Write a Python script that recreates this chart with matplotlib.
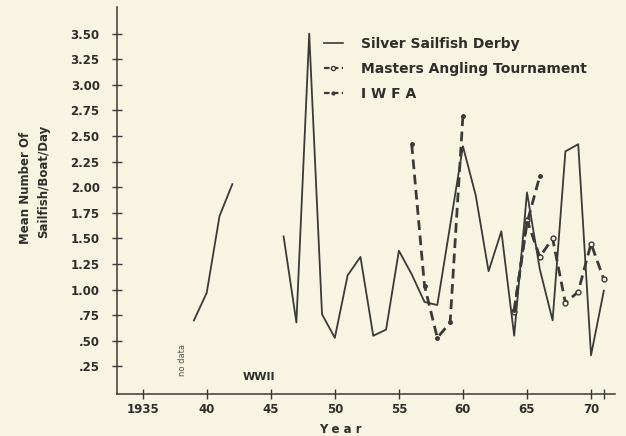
import numpy as np
import matplotlib.pyplot as plt
from matplotlib.lines import Line2D

# Silver Sailfish Derby (gap during WWII)
derby_years = [1939, 1940, 1941, 1942, 1943, 1944, 1945, 1946, 1947, 1948, 1949, 1950,
               1951, 1952, 1953, 1954, 1955, 1956, 1957, 1958, 1960, 1961, 1962, 1963,
               1964, 1965, 1966, 1967, 1968, 1969, 1970, 1971]
derby_vals = [0.70, 0.97, 1.72, 2.03, np.nan, np.nan, np.nan, 1.52, 0.68, 3.50, 0.76, 0.53,
              1.14, 1.32, 0.55, 0.61, 1.38, 1.15, 0.88, 0.85, 2.40, 1.92, 1.18, 1.57,
              0.55, 1.95, 1.20, 0.70, 2.35, 2.42, 0.36, 0.99]

# Masters Angling Tournament
masters_years = [1964, 1965, 1966, 1967, 1968, 1969, 1970, 1971]
masters_vals = [0.78, 1.68, 1.32, 1.50, 0.87, 0.98, 1.45, 1.10]

# IWFA
iwfa_years = [1956, 1957, 1958, 1959, 1960, 1961, 1964, 1965, 1966]
iwfa_vals = [2.42, 1.04, 0.53, 0.68, 2.70, np.nan, 0.80, 1.65, 2.11]

y_ticks = [0.25, 0.50, 0.75, 1.00, 1.25, 1.50, 1.75, 2.00, 2.25, 2.50, 2.75, 3.00, 3.25, 3.50]
y_labels = [".25", ".50", ".75", "1.00", "1.25", "1.50", "1.75", "2.00", "2.25", "2.50",
            "2.75", "3.00", "3.25", "3.50"]
x_ticks = [1935, 1940, 1945, 1950, 1955, 1960, 1965, 1970]
x_labels = ["1935", "40", "45", "50", "55", "60", "65", "70"]

bg = "#f7f5e2"
ink = "#3a3a38"
txt = "#2e2e2c"

fig = plt.figure(figsize=(6.26, 4.36), dpi=100, facecolor=bg)
ax = fig.add_axes([0.187, 0.096, 0.795, 0.888], facecolor=bg)

ax.plot(derby_years, derby_vals, color=ink, lw=1.3)
ax.plot(masters_years, masters_vals, color=ink, lw=2.0, ls=(0, (3.5, 2)),
        marker="o", ms=3.5, mfc=bg, mec=ink, mew=1.0)
ax.plot(iwfa_years, iwfa_vals, color=ink, lw=2.0, ls=(0, (3.5, 2)),
        marker="o", ms=2.5, mfc=ink, mec=ink)

ax.set_xlim(1933.0, 1971.85)
ax.set_ylim(-0.02, 3.76)
ax.set_xticks(x_ticks)
ax.set_xticklabels(x_labels)
ax.set_xticks([1971], minor=True)
ax.set_yticks(y_ticks)
ax.set_yticklabels(y_labels)

for s in ["top", "right"]:
    ax.spines[s].set_visible(False)
for s in ["left", "bottom"]:
    ax.spines[s].set_color(ink)
    ax.spines[s].set_linewidth(1.1)

ax.tick_params(axis="both", which="both", direction="inout", length=7, width=1.0,
               colors=ink, labelsize=8.5)
ax.tick_params(axis="y", pad=9)
ax.tick_params(axis="x", pad=3)
for lab in ax.get_xticklabels() + ax.get_yticklabels():
    lab.set_fontweight("bold")
    lab.set_color(txt)

fig.text(340 / 626, 1 - 429 / 436, "Y e a r", ha="center", va="center",
         fontsize=8.5, fontweight="bold", color=txt)
fig.text(0.04, 0.57, "Mean Number Of", rotation=90, ha="center", va="center",
         fontsize=8.5, fontweight="bold", color=txt)
fig.text(0.069, 0.585, "Sailfish/Boat/Day", rotation=90, ha="center", va="center",
         fontsize=8.5, fontweight="bold", color=txt)

ax.text(1938.1, 0.31, "no data", rotation=90, ha="center", va="center",
        fontsize=6, color="#555")
ax.text(1944.1, 0.145, "WWII", ha="center", va="center",
        fontsize=8, fontweight="bold", color=txt)

handles = [
    Line2D([], [], color=ink, lw=1.2),
    Line2D([], [], color=ink, lw=1.6, ls=(0, (2.5, 1.5)), marker="o", ms=3,
           mfc=bg, mec=ink, markevery=[0, -1]),
    Line2D([], [], color=ink, lw=1.6, ls=(0, (2.5, 1.5)), marker="o", ms=2,
           mfc=ink, mec=ink, markevery=[0, -1]),
]
labels = ["Silver Sailfish Derby", "Masters Angling Tournament", "I W F A"]
leg = ax.legend(handles, labels, loc="upper left", bbox_to_anchor=(0.39, 0.955),
                frameon=False, handlelength=1.4, handletextpad=1.3, labelspacing=0.8,
                prop={"size": 10, "weight": "bold"})
for t in leg.get_texts():
    t.set_color(txt)

fig.savefig("out.png", dpi=100, facecolor=bg)
